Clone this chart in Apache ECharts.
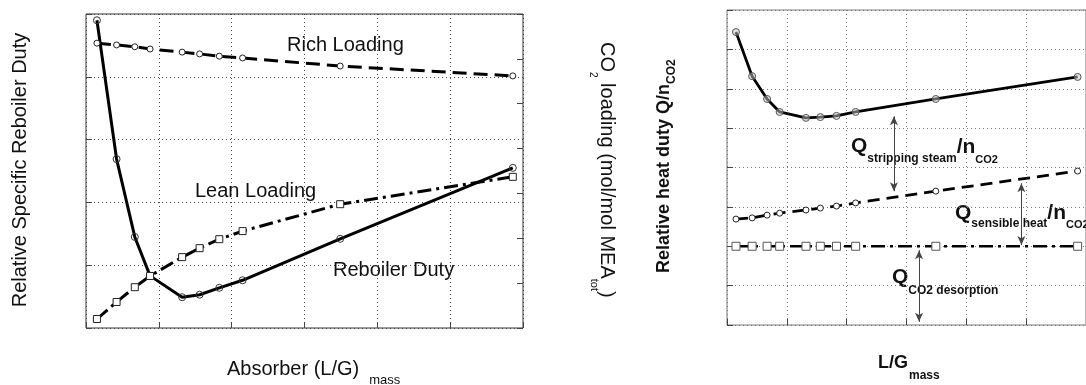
<!DOCTYPE html>
<html>
<head>
<meta charset="utf-8">
<script src="https://cdn.jsdelivr.net/npm/echarts@6/dist/echarts.min.js"></script>
<style>
html,body{margin:0;padding:0;background:#fff;}
#c{width:1086px;height:385px;}
</style>
</head>
<body>
<div id="c"></div>
<script>
// ---------- data ----------
const lgMass = [0.15, 0.42, 0.67, 0.88, 1.32, 1.56, 1.83, 2.15, 3.49, 5.86];
// left panel
const reboilerDuty = [4.90, 2.69, 1.45, 0.83, 0.49, 0.53, 0.64, 0.76, 1.42, 2.55];
const richLoading  = [6.35, 6.31, 6.27, 6.22, 6.15, 6.11, 6.06, 6.02, 5.84, 5.62];
const leanLoading  = [0.20, 0.58, 0.91, 1.16, 1.58, 1.78, 1.98, 2.16, 2.76, 3.37];
// right panel
const totalDuty    = [7.44, 6.32, 5.74, 5.41, 5.26, 5.28, 5.31, 5.41, 5.74, 6.30];
const sensibleHeat = [2.69, 2.72, 2.79, 2.84, 2.92, 2.97, 3.02, 3.10, 3.40, 3.91];
const co2Desorp    = [2.00, 2.00, 2.00, 2.00, 2.00, 2.00, 2.00, 2.00, 2.00, 2.00];
// annotation arrows (right panel, data coords)
const arrowX      = [2.79, 4.92, 3.21];
const arrowTop    = [5.30, 3.60, 1.90];
const arrowBottom = [3.40, 2.03, 0.08];

const pairs = ys => lgMass.map((x, i) => [x, ys[i]]);

// ---------- text helper ----------
const FONT = '"Liberation Sans", Arial, sans-serif';
const mctx = document.createElement('canvas').getContext('2d');
function fontStr(p){ return (p.b ? 'bold ' : '') + p.s + 'px ' + FONT; }
function run(x, y, parts, opts){
  opts = opts || {};
  const widths = parts.map(p => { mctx.font = fontStr(p); return mctx.measureText(p.t).width; });
  const total = widths.reduce((a,b)=>a+b,0) + parts.reduce((a,p)=>a+(p.gap||0),0);
  let cx = opts.align === 'center' ? -total/2 : 0;
  const children = [];
  parts.forEach((p,i) => {
    cx += p.gap || 0;
    children.push({
      type:'text', x: cx, y: p.dy || 0, silent:true,
      style:{text:p.t, font:fontStr(p), fill:'#111', align:'left', verticalAlign:'middle'}
    });
    cx += widths[i];
  });
  return {type:'group', x:x, y:y, rotation: opts.rot || 0, silent:true, children:children};
}

// ---------- axes styles ----------
const gridLineL = {show:true, lineStyle:{type:[1,3], color:'#444', width:1}};
const gridLineR = {show:true, lineStyle:{type:[1,3], color:'#777', width:1}};
function xAx(gi, split){
  return {gridIndex:gi, type:'value', min:0, max:6, interval:1,
    axisLabel:{show:false}, axisLine:{show:false},
    axisTick:{show:true, inside:true, length:6, lineStyle:{color:'#444'}},
    splitLine:split};
}
function yAx(gi, max, pos, split){
  return {gridIndex:gi, type:'value', min:0, max:max, interval:1, position:pos,
    axisLabel:{show:false}, axisLine:{show:false},
    axisTick:{show:true, inside:true, length:6, lineStyle:{color:'#444'}},
    splitLine:split};
}

const circleMark = {color:'rgba(255,255,255,0)', borderColor:'#333', borderWidth:1};
const openMark = {color:'#fff', borderColor:'#222', borderWidth:1};

const option = {
  animation:false,
  backgroundColor:'#fff',
  grid:[
    {left:86, top:14, width:437, height:314, show:true, borderColor:'#333', borderWidth:1, backgroundColor:'transparent'},
    {left:727, top:10, width:368, height:315, show:true, borderColor:'#777', borderWidth:1, backgroundColor:'transparent'}
  ],
  xAxis:[ xAx(0, gridLineL), xAx(1, gridLineR) ],
  yAxis:[ yAx(0, 5, 'left', gridLineL), yAx(0, 7, 'right', {show:false}), yAx(1, 8, 'left', gridLineR) ],
  series:[
    {name:'Reboiler Duty', type:'line', xAxisIndex:0, yAxisIndex:0, data:pairs(reboilerDuty),
      symbol:'circle', symbolSize:7, showAllSymbol:true,
      lineStyle:{color:'#000', width:3}, itemStyle:circleMark, z:3},
    {name:'Rich Loading', type:'line', xAxisIndex:0, yAxisIndex:1, data:pairs(richLoading),
      symbol:'circle', symbolSize:6, showAllSymbol:true,
      lineStyle:{color:'#000', width:3, type:[14,7]}, itemStyle:openMark, z:3},
    {name:'Lean Loading', type:'line', xAxisIndex:0, yAxisIndex:1, data:pairs(leanLoading),
      symbol:'rect', symbolSize:7, showAllSymbol:true,
      lineStyle:{color:'#000', width:3, type:[14,5,3,5]}, itemStyle:openMark, z:3},
    {name:'Total', type:'line', xAxisIndex:1, yAxisIndex:2, data:pairs(totalDuty),
      symbol:'circle', symbolSize:7, showAllSymbol:true,
      lineStyle:{color:'#000', width:2.8}, itemStyle:{color:'rgba(200,200,200,0.5)', borderColor:'#555', borderWidth:1}, z:3},
    {name:'Sensible', type:'line', xAxisIndex:1, yAxisIndex:2, data:pairs(sensibleHeat),
      symbol:'circle', symbolSize:6, showAllSymbol:true,
      lineStyle:{color:'#000', width:2.8, type:[12,7]}, itemStyle:openMark, z:3},
    {name:'Desorption', type:'line', xAxisIndex:1, yAxisIndex:2, data:pairs(co2Desorp),
      symbol:'rect', symbolSize:8, showAllSymbol:true,
      lineStyle:{color:'#000', width:2.4, type:[14,5,3,5]}, itemStyle:{color:'#fff', borderColor:'#555', borderWidth:1}, z:3,
      markLine:{silent:true, symbol:['arrow','arrow'], symbolSize:[6,9], animation:false,
        lineStyle:{color:'#444', width:1, type:'solid'}, label:{show:false}, emphasis:{disabled:true},
        data: arrowX.map((x,i) => [{coord:[x, arrowTop[i]]}, {coord:[x, arrowBottom[i]]}])}
    }
  ],
  graphic:[
    // left panel
    run(20, 170, [{t:'Relative Specific Reboiler Duty', s:20}], {rot:Math.PI/2, align:'center'}),
    run(227, 369, [{t:'Absorber (L/G)', s:20}, {t:'mass', s:13, dy:11, gap:10}]),
    run(287, 45, [{t:'Rich Loading', s:20}]),
    run(195, 191, [{t:'Lean Loading', s:20}]),
    run(333, 270, [{t:'Reboiler Duty', s:20}]),
    // right side labels
    run(607, 42, [{t:'CO', s:20}, {t:'2', s:10, dy:14}, {t:' loading (mol/mol MEA', s:20}, {t:'tot', s:11, dy:13}, {t:')', s:20}], {rot:-Math.PI/2}),
    run(664, 273, [{t:'Relative heat duty Q/n', s:18, b:true}, {t:'CO2', s:12, b:true, dy:8}], {rot:Math.PI/2}),
    run(878, 363, [{t:'L/G', s:18, b:true}, {t:'mass', s:12, b:true, dy:13, gap:1}]),
    // right panel annotations
    run(851, 146, [{t:'Q', s:21, b:true}, {t:'stripping steam', s:12, b:true, dy:13}, {t:'/n', s:21, b:true, dy:1}, {t:'CO2', s:11, b:true, dy:14}]),
    run(955, 213, [{t:'Q', s:21, b:true}, {t:'sensible heat', s:12, b:true, dy:11}, {t:'/n', s:21, b:true}, {t:'CO2', s:11, b:true, dy:12}]),
    run(892, 277, [{t:'Q', s:21, b:true}, {t:'CO2 desorption', s:12, b:true, dy:14}])
  ]
};

const chart = echarts.init(document.getElementById('c'), null, {renderer:'canvas'});
chart.setOption(option);
</script>
</body>
</html>
